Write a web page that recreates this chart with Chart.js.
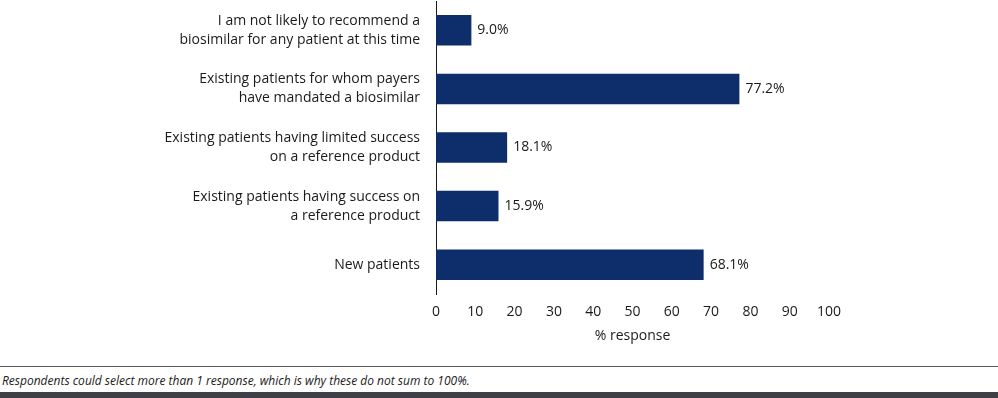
<!DOCTYPE html>
<html>
<head>
<meta charset="utf-8">
<script src="https://cdn.jsdelivr.net/npm/chart.js@4/dist/chart.umd.min.js"></script>
<style>
  html, body { margin: 0; padding: 0; background: #fff; width: 998px; height: 398px; overflow: hidden; }
  #wrap { position: absolute; left: 0; top: 0; width: 998px; height: 360px; }
  #rule { position: absolute; left: 0; top: 366px; width: 998px; height: 1px; background: #5a5a5a; }
  #note { position: absolute; left: 2px; top: 372px; font: italic 12px "Open Sans", sans-serif; color: #1a1a1a; white-space: nowrap; }
  #band { position: absolute; left: 0; top: 392px; width: 998px; height: 6px; background: #3d4147; }
</style>
</head>
<body>
<div id="wrap"><canvas id="c"></canvas></div>
<div id="rule"></div>
<div id="note">Respondents could select more than 1 response, which is why these do not sum to 100%.</div>
<div id="band"></div>
<script>
const categories = [
  ["I am not likely to recommend a", "biosimilar for any patient at this time"],
  ["Existing patients for whom payers", "have mandated a biosimilar"],
  ["Existing patients having limited success", "on a reference product"],
  ["Existing patients having success on", "a reference product"],
  ["New patients"]
];
const values = [9.0, 77.2, 18.1, 15.9, 68.1];
const xTicks = [0, 10, 20, 30, 40, 50, 60, 70, 80, 90, 100];
const axisTitle = "% response";

const FONT = "'Open Sans', sans-serif";
const TEXT = "#1a1a1a";

const valueLabels = {
  id: "valueLabels",
  afterDatasetsDraw(chart) {
    const ctx = chart.ctx;
    const meta = chart.getDatasetMeta(0);
    ctx.save();
    ctx.font = "14px " + FONT;
    ctx.fillStyle = TEXT;
    ctx.textAlign = "left";
    ctx.textBaseline = "middle";
    meta.data.forEach((bar, i) => {
      ctx.fillText(values[i].toFixed(1) + "%", bar.x + 6, bar.y);
    });
    ctx.restore();
  }
};

new Chart(document.getElementById("c"), {
  type: "bar",
  data: {
    labels: categories,
    datasets: [{
      data: values,
      backgroundColor: "#0e2d6b",
      borderWidth: 0,
      barPercentage: 0.52,
      categoryPercentage: 1.0
    }]
  },
  options: {
    indexAxis: "y",
    responsive: true,
    maintainAspectRatio: false,
    animation: false,
    layout: { padding: { top: 1, right: 169, bottom: 0, left: 0 } },
    plugins: { legend: { display: false }, tooltip: { enabled: false } },
    scales: {
      x: {
        type: "linear",
        min: 0, max: 100,
        afterBuildTicks(scale) { scale.ticks = xTicks.map(v => ({ value: v })); },
        afterFit(scale) { scale.height = 66; scale.paddingLeft = 0; scale.paddingRight = 0; },
        grid: { display: false, drawTicks: false },
        border: { display: false },
        ticks: { padding: 10, color: TEXT, font: { family: FONT, size: 14 }, maxRotation: 0, autoSkip: false },
        title: { display: true, text: axisTitle, color: TEXT, font: { family: FONT, size: 14 }, padding: { top: 4, bottom: 16 } }
      },
      y: {
        afterFit(scale) { scale.width = 436; scale.paddingTop = 0; scale.paddingBottom = 0; },
        grid: { display: false, drawTicks: false },
        border: { display: true, color: "#1a1a1a", width: 1 },
        ticks: { padding: 16, color: TEXT, font: { family: FONT, size: 14, lineHeight: 1.36 }, autoSkip: false }
      }
    }
  },
  plugins: [valueLabels]
});
</script>
</body>
</html>
